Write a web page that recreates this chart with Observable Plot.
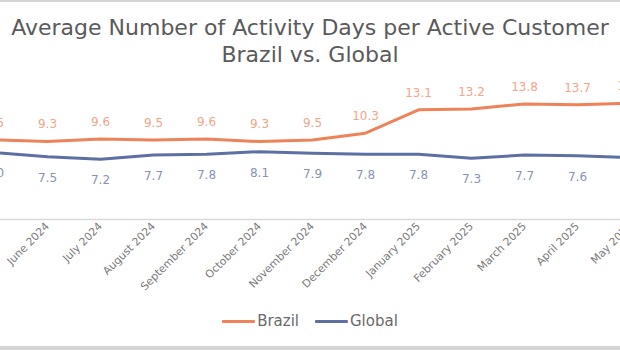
<!DOCTYPE html>
<html>
<head>
<meta charset="utf-8">
<script src="https://cdn.jsdelivr.net/npm/d3@7"></script>
<script src="https://cdn.jsdelivr.net/npm/@observablehq/plot@0.6"></script>
<style>
  body { margin: 0; background: #fff; }
  #frame { position: relative; width: 620px; height: 350px; overflow: hidden; background: #fff; }
  #topline { position: absolute; left: 0; top: 0; width: 620px; height: 2px; background: #d4d4d4; }
  #botline { position: absolute; left: 0; top: 346px; width: 620px; height: 4px; background: #d4d4d4; }
  #inner { position: absolute; left: -30px; top: 0; width: 680px; }
  #title { height: 64px; box-sizing: border-box; padding-top: 14px; text-align: center; font-family: "DejaVu Sans", sans-serif; font-size: 22px; line-height: 27px; color: #5a5a5a; white-space: nowrap; overflow: visible; }
  #legend { display: flex; justify-content: center; align-items: center; gap: 16px; padding-top: 8px; font-family: "DejaVu Sans", sans-serif; font-size: 15px; color: #6a6a6a; }
  .sw { display: inline-block; width: 33px; height: 3px; vertical-align: middle; margin-right: 2px; border-radius: 1px; }
  .item { display: flex; align-items: center; }
</style>
</head>
<body>
<div id="frame">
  <div id="inner">
    <div id="title">Average Number of Activity Days per Active Customer<br>Brazil vs. Global</div>
    <div id="chart"></div>
    <div id="legend"></div>
  </div>
  <div id="topline"></div>
  <div id="botline"></div>
</div>
<script>
const months = ["May 2024","June 2024","July 2024","August 2024","September 2024","October 2024","November 2024","December 2024","January 2025","February 2025","March 2025","April 2025","May 2025"];
const seriesNames = ["Brazil","Global"];
const brazil = [9.5, 9.3, 9.6, 9.5, 9.6, 9.3, 9.5, 10.3, 13.1, 13.2, 13.8, 13.7, 13.9];
const global = [8.0, 7.5, 7.2, 7.7, 7.8, 8.1, 7.9, 7.8, 7.8, 7.3, 7.7, 7.6, 7.4];
const colors = ["#EE8259", "#5D70A3"];
const labelColors = ["#F2A588", "#8793B5"];

const brazilData = months.map((m, i) => ({month: m, series: "Brazil", value: brazil[i]}));
const globalData = months.map((m, i) => ({month: m, series: "Global", value: global[i]}));

const chart = Plot.plot({
  width: 680,
  height: 240,
  marginLeft: 23,
  marginRight: 19,
  marginTop: 21,
  marginBottom: 85,
  style: {fontFamily: "DejaVu Sans, sans-serif", fontSize: "10.8px", color: "#7a7a7a", background: "transparent"},
  x: {type: "point", domain: months, padding: 0, label: null, tickRotate: -45, tickSize: 0, tickPadding: 5},
  y: {domain: [0, 16], axis: null},
  color: {domain: seriesNames, range: colors},
  marks: [
    Plot.ruleY([0], {stroke: "#d9d9d9", strokeWidth: 1.5}),
    Plot.lineY(brazilData, {x: "month", y: "value", stroke: "series", strokeWidth: 3}),
    Plot.lineY(globalData, {x: "month", y: "value", stroke: "series", strokeWidth: 3}),
    Plot.text(brazilData, {x: "month", y: "value", text: d => d.value.toFixed(1), dy: -17, fill: labelColors[0], fontSize: 12}),
    Plot.text(globalData, {x: "month", y: "value", text: d => d.value.toFixed(1), dy: 21, fill: labelColors[1], fontSize: 12})
  ]
});
document.getElementById("chart").appendChild(chart);

const legend = document.getElementById("legend");
seriesNames.forEach((s, i) => {
  const item = document.createElement("span");
  item.className = "item";
  const sw = document.createElement("span");
  sw.className = "sw";
  sw.style.background = colors[i];
  item.appendChild(sw);
  item.appendChild(document.createTextNode(s));
  legend.appendChild(item);
});
</script>
</body>
</html>
